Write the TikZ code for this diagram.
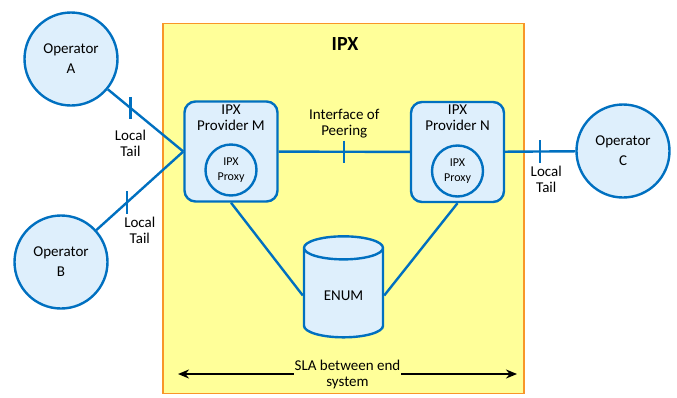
\documentclass[tikz,border=0pt]{standalone}
\usepackage{fontspec}
\setmainfont{Carlito}
\usepackage{tikz}
\usetikzlibrary{shapes.geometric, arrows.meta, positioning}

\definecolor{ipxblue}{RGB}{0,112,192}
\definecolor{ipxfill}{RGB}{222,239,252}
\definecolor{ipxyellow}{RGB}{255,255,153}
\definecolor{ipxorange}{RGB}{248,150,40}

\begin{document}
\begin{tikzpicture}[x=1pt, y=-1pt, >={Stealth[length=11pt, width=9pt]}, font=\fontsize{15}{16}\selectfont]

        % --- Styles ---
        \tikzstyle{operator} = [circle, minimum size=93pt, draw=ipxblue, line width=2.4pt, fill=ipxfill, align=center, font=\fontsize{15}{20}\selectfont]
        \tikzstyle{provider} = [rectangle, rounded corners=11pt, minimum width=93pt, minimum height=100pt, draw=ipxblue, line width=2.4pt, fill=ipxfill]
        \tikzstyle{proxy} = [circle, minimum size=51pt, inner sep=0pt, draw=ipxblue, line width=2.4pt, align=center, font=\fontsize{12}{15}\selectfont]
        \tikzstyle{link} = [draw=ipxblue, line width=2.4pt]
        \tikzstyle{tailmark} = [inner sep=0pt, minimum width=0pt, minimum height=20pt]
        \tikzstyle{tail} = [align=center, inner sep=1pt]

        \useasboundingbox (0,0) rectangle (677,397);

        % --- IPX area ---
        \node (ipx_area) [rectangle, minimum width=361pt, minimum height=370pt, draw=ipxorange, line width=1.8pt, fill=ipxyellow] at (343.5,208.5) {};
        \node (ipx_title) [font=\fontsize{20}{22}\selectfont\bfseries] at (345,44) {IPX};

        % 1. Operators
        \node (op_a) [operator] at (71,59) {Operator\\A};
        \node (op_b) [operator] at (61,262) {Operator\\B};
        \node (op_c) [operator] at (623,151) {Operator\\C};

        % 2. IPX providers
        \node (prov_m) [provider] at (231,151.5) {};
        \node (prov_m_txt) [anchor=north, align=center, inner sep=4pt] at (prov_m.north) {IPX\\Provider M};
        \node (proxy_m) [proxy] at (231,170) {IPX\\Proxy};

        \node (prov_n) [provider] at (457.5,152) {};
        \node (prov_n_txt) [anchor=north, align=center, inner sep=4pt] at (prov_n.north) {IPX\\Provider N};
        \node (proxy_n) [proxy] at (457.5,171) {IPX\\Proxy};

        % 3. ENUM
        \node (enum_db) [cylinder, shape border rotate=90, aspect=0.5, minimum width=79pt, minimum height=101pt, draw=ipxblue, line width=2.4pt, fill=ipxfill] at (343.5,295.5) {ENUM};

        % --- Links ---
        \draw[link] (op_a) -- node[tailmark, pos=0.3] (tick_a) {} (prov_m.west);
        \draw[link] (op_b) -- node[tailmark, pos=0.35] (tick_b) {} (prov_m.west);
        \draw[link] (prov_m) -- node[tailmark] (tick_p) {} (prov_n);
        \draw[link] (prov_n) -- node[tailmark] (tick_c) {} (op_c);
        \draw[link] (prov_m.south) -- (enum_db.west);
        \draw[link] (prov_n.south) -- (enum_db.east);

        % tick marks
        \draw[link] (tick_a.north) -- (tick_a.south);
        \draw[link] (tick_b.north) -- (tick_b.south);
        \draw[link] (tick_p.north) -- (tick_p.south);
        \draw[link] (tick_c.north) -- (tick_c.south);

        % --- Labels ---
        \node (tail_a) [tail, below=10pt of tick_a] {Local\\Tail};
        \node (tail_b) [tail, below=2pt of tick_b, xshift=13pt] {Local\\Tail};
        \node (tail_c) [tail, below=2pt of tick_c, xshift=6pt] {Local\\Tail};
        \node (peering) [tail, above=1pt of tick_p] {Interface of\\Peering};

        % --- SLA ---
        \coordinate (sla_l) at (178,374);
        \coordinate (sla_r) at (517,374);
        \draw[<->, line width=1.8pt] (sla_l) -- node[fill=ipxyellow, align=center, inner sep=1pt] (sla_txt) {SLA between end\\system} (sla_r);
        \end{tikzpicture}
\end{document}
